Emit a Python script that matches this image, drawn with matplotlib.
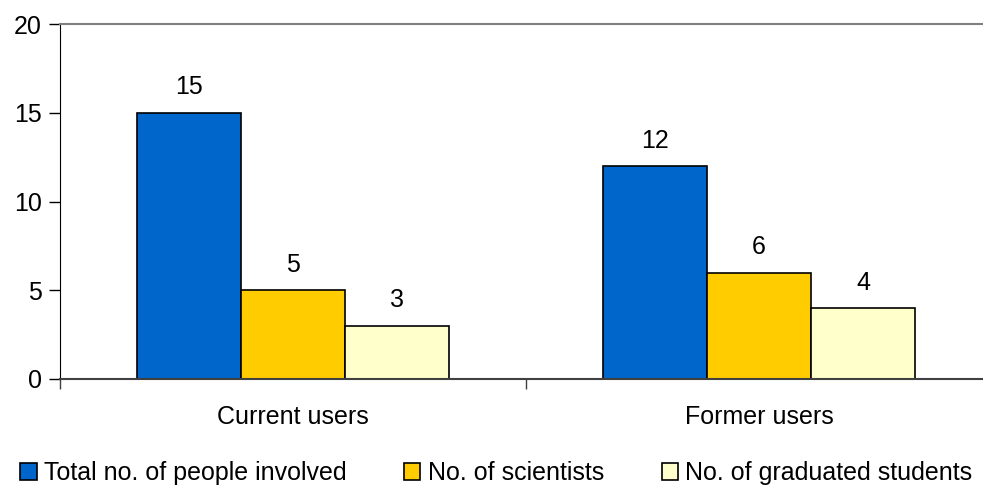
import numpy as np
import matplotlib.pyplot as plt

plt.rcParams['font.family'] = ['Liberation Sans', 'DejaVu Sans']

categories = ['Current users', 'Former users']
series_names = ['Total no. of people involved', 'No. of scientists', 'No. of graduated students']
total = [15, 12]
scientists = [5, 6]
students = [3, 4]
colors = ['#0066CC', '#FFCC00', '#FFFFCC']

fig = plt.figure(figsize=(9.83, 4.87), dpi=100)
ax = fig.add_axes([60 / 983, 108 / 487, 932 / 983, 355 / 487])

x = np.arange(len(categories))
w = 0.2232
for i, (vals, name, col) in enumerate(zip([total, scientists, students], series_names, colors)):
    bars = ax.bar(x + (i - 1) * w, vals, w, color=col, edgecolor='black', linewidth=1.2, label=name)
    for b, v in zip(bars, vals):
        ax.text(b.get_x() + b.get_width() / 2, v + 0.75, str(v), ha='center', va='bottom', fontsize=18)

ax.set_xlim(-0.5, 1.5)
ax.set_ylim(0, 20)
ax.set_yticks([0, 5, 10, 15, 20])
ax.set_xticks([-0.5, 0.5, 1.5])
ax.set_xticklabels([])
ax.set_xticks(x, minor=True)
ax.set_xticklabels(categories, minor=True, fontsize=18)
ax.tick_params(axis='x', which='minor', length=0, pad=19)
ax.tick_params(axis='x', which='major', length=7, width=1, color='#404040', direction='out')
ax.tick_params(axis='y', length=8, width=1, direction='out', labelsize=18, pad=5)

ax.spines['right'].set_visible(False)
ax.spines['top'].set_color('#808080')
ax.spines['top'].set_linewidth(1.5)
ax.spines['left'].set_color('black')
ax.spines['bottom'].set_color('#404040')
ax.spines['bottom'].set_linewidth(1.5)

fig.legend(loc='lower center', bbox_to_anchor=(0.505, -0.042), ncol=3, frameon=False, fontsize=18,
           handlelength=0.65, handleheight=0.65, handletextpad=0.3, columnspacing=2.3)

fig.savefig('out.png', dpi=100)
